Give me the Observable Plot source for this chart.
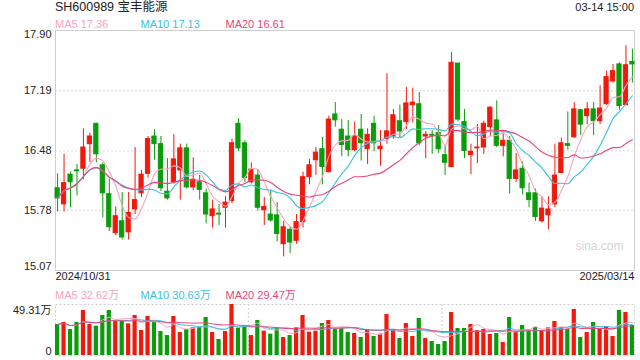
<!DOCTYPE html>
<html><head><meta charset="utf-8">
<script src="https://cdn.jsdelivr.net/npm/d3@7"></script>
<script src="https://cdn.jsdelivr.net/npm/@observablehq/plot@0.6"></script>
<style>
body{margin:0;background:#fff;}
#c{position:relative;width:640px;height:360px;font-family:"Liberation Sans",Arial,"Noto Sans CJK SC",sans-serif;overflow:hidden;background:#fff;}
#c svg{position:absolute;left:0;}
.t{position:absolute;white-space:nowrap;line-height:1;}
</style></head><body><div id="c"></div>
<script>
const title = "SH600989 宝丰能源";
const timeLabel = "03-14 15:00";
const priceMaLabels = ["MA5 17.36", "MA10 17.13", "MA20 16.61"];
const volMaLabels = ["MA5 32.62万", "MA10 30.63万", "MA20 29.47万"];
const maWindows = [5, 10, 20];
const maColors = ["#f7a3c0", "#3bbfe0", "#e8457c"];
const dateLabels = ["2024/10/31", "2025/03/14"];
const priceTicks = [17.90, 17.19, 16.48, 15.78, 15.07];
const volTicks = [49.31, 0];
const watermark = "sina.com";

const open = [16.04,15.85,16.20,16.25,16.27,16.56,16.80,16.31,15.97,15.51,
15.65,15.52,15.79,15.98,16.21,16.65,16.56,16.00,16.11,16.25,
16.51,16.05,16.11,15.98,15.71,15.74,15.81,15.89,16.80,16.57,
16.11,16.19,15.78,15.73,15.72,15.38,15.55,15.42,15.64,16.17,
16.37,16.50,16.23,16.91,16.73,16.65,16.49,16.73,16.50,16.80,
16.50,16.62,16.65,16.83,16.82,17.02,17.03,16.65,16.67,16.69,
16.43,16.29,17.51,16.82,16.43,16.51,16.52,16.76,16.84,16.54,
16.60,16.15,16.27,15.98,15.98,15.65,15.72,15.85,16.22,16.56,
16.64,16.96,16.89,16.97,16.83,17.03,17.30,17.50,17.02,17.53];
const close = [15.92,16.10,16.11,16.24,16.52,16.65,16.44,15.98,15.58,15.71,
15.46,15.75,15.90,16.20,16.62,16.56,16.04,15.92,16.38,16.51,
16.05,16.14,16.02,15.73,15.79,15.73,15.87,16.57,16.51,16.16,
16.26,15.81,15.82,15.66,15.50,15.58,15.40,15.64,16.17,16.31,
16.46,16.29,16.85,16.84,16.55,16.49,16.65,16.57,16.67,16.57,
16.53,16.71,16.90,16.71,17.04,17.05,16.57,16.67,16.66,16.50,
16.34,17.52,16.85,16.48,16.47,16.52,16.80,16.99,16.54,16.60,
16.15,16.25,16.04,15.90,15.70,15.80,15.79,16.19,16.57,16.54,
16.97,16.79,16.97,16.83,16.98,17.35,17.42,17.01,17.49,17.50];
const high = [16.21,16.44,16.23,16.32,16.74,16.69,16.80,16.34,16.15,15.82,
15.99,15.99,16.52,16.25,16.65,16.73,16.65,16.39,16.67,16.56,
16.56,16.40,16.19,16.03,15.90,15.85,15.94,16.62,16.86,16.60,
16.34,16.26,15.93,16.01,15.87,15.65,15.58,15.73,16.23,16.38,
16.52,16.64,16.89,17.05,16.85,16.84,16.82,16.91,16.74,16.89,
16.72,17.39,16.97,17.02,17.23,17.22,17.17,16.71,16.72,16.78,
16.54,17.64,17.51,16.97,16.56,16.79,16.83,17.00,17.07,16.69,
16.65,16.45,16.35,16.10,16.03,15.94,15.94,16.56,16.63,16.94,
17.05,16.96,17.05,17.05,17.25,17.42,17.50,17.52,17.72,17.68];
const low = [15.76,15.76,15.81,15.95,16.14,16.34,16.34,15.69,15.53,15.48,
15.43,15.43,15.73,15.93,16.16,16.37,16.00,15.90,16.09,15.90,
16.03,16.01,15.90,15.62,15.57,15.60,15.57,15.86,16.47,16.11,
16.09,15.77,15.60,15.64,15.41,15.23,15.27,15.38,15.57,16.08,
16.19,16.08,16.22,16.76,16.41,16.41,16.47,16.36,16.32,16.47,
16.30,16.56,16.62,16.63,16.73,16.81,16.54,16.39,16.44,16.45,
16.19,16.29,16.82,16.39,16.20,16.33,16.44,16.65,16.52,16.41,
15.97,16.11,15.96,15.81,15.65,15.63,15.55,15.81,16.21,16.49,
16.63,16.66,16.79,16.66,16.79,17.02,17.28,16.96,17.02,17.28];
const volume = [30.0,31.9,25.1,31.9,43.5,30.0,28.4,38.7,43.5,33.2,
33.2,30.6,38.7,24.2,37.7,32.2,23.2,19.3,37.7,22.2,
25.1,26.7,27.4,36.7,22.2,15.5,23.2,49.31,26.4,28.0,
19.3,33.8,23.5,20.6,26.4,17.4,19.3,26.7,38.7,22.6,
23.5,30.9,33.8,25.1,26.4,22.2,21.3,17.4,24.2,18.4,
20.6,39.6,25.1,16.4,30.9,18.4,35.8,16.4,13.5,10.6,
13.5,41.6,26.1,26.1,30.0,24.2,25.1,20.3,21.3,12.6,
36.7,23.2,29.0,23.5,27.1,24.2,26.7,32.9,27.1,25.1,
44.5,17.4,22.2,31.9,25.5,28.0,18.4,43.5,41.6,29.0];

const upColor = "#f0190c", downColor = "#0b9c0b";
const rows = close.map((c, i) => ({i, open: open[i], high: high[i], low: low[i], close: c, volume: volume[i],
  color: c >= open[i] ? upColor : downColor}));

const font = '"Liberation Sans", Arial, "Noto Sans CJK SC", sans-serif';
const xScale = {type: "band", domain: d3.range(rows.length), paddingInner: 0.35, paddingOuter: 0, axis: null};
const fmt = d => d.toFixed(2);

const main = Plot.plot({
  width: 640, height: 290, marginLeft: 55, marginRight: 6, marginTop: 30, marginBottom: 20,
  style: {fontFamily: font, fontSize: "11px", background: "transparent", overflow: "visible"},
  x: xScale,
  y: {domain: [priceTicks[priceTicks.length - 1], priceTicks[0]], axis: null},
  marks: [
    Plot.ruleY(priceTicks.slice(1, -1), {stroke: "#d9d9d9", strokeDasharray: "2,2"}),
    Plot.frame({stroke: "#cfcfcf"}),
    Plot.ruleX(rows, {x: "i", y1: "low", y2: "high", stroke: "color", strokeWidth: 1}),
    Plot.barY(rows, {x: "i", y1: "open", y2: "close", fill: "color", stroke: "color", strokeWidth: 1}),
    ...maWindows.map((k, j) => Plot.lineY(rows, Plot.windowY({k, anchor: "end"},
      {x: "i", y: "close", stroke: maColors[j], strokeWidth: 1.1, curve: "monotone-x"}))),
    Plot.text(priceTicks.slice(1, -1), {y: d => d, text: fmt, frameAnchor: "left", textAnchor: "end", dx: -4, fill: "#222"}),
    Plot.text(priceTicks.slice(0, 1), {y: d => d, text: fmt, frameAnchor: "left", textAnchor: "end", dx: -4, lineAnchor: "top", dy: 0, fill: "#222"}),
    Plot.text(priceTicks.slice(-1), {y: d => d, text: fmt, frameAnchor: "left", textAnchor: "end", dx: -4, lineAnchor: "bottom", dy: -1, fill: "#222"}),
    Plot.text(dateLabels.slice(0, 1), {text: d => d, frameAnchor: "bottom-left", textAnchor: "start", lineAnchor: "top", dy: 2, fill: "#222"}),
    Plot.text(dateLabels.slice(1), {text: d => d, frameAnchor: "bottom-right", textAnchor: "end", lineAnchor: "top", dy: 2, fill: "#222"}),
    Plot.text([watermark], {text: d => d, frameAnchor: "bottom-right", textAnchor: "end", dx: -11, dy: -21, fill: "#d4d4d4", fontSize: 12})
  ]
});
main.style.top = "0px";

const vol = Plot.plot({
  width: 640, height: 60, marginLeft: 55, marginRight: 6, marginTop: 4, marginBottom: 5,
  style: {fontFamily: font, fontSize: "11px", background: "transparent", overflow: "visible"},
  x: xScale,
  y: {domain: [volTicks[1], volTicks[0]], axis: null},
  marks: [
    Plot.frame({stroke: "#cfcfcf", strokeDasharray: "2,2"}),
    Plot.ruleX([30, 60], {stroke: "#cfcfcf", strokeDasharray: "2,2", dx: -3}),
    Plot.barY(rows, {x: "i", y: "volume", fill: "color"}),
    ...maWindows.map((k, j) => Plot.lineY(rows, Plot.windowY({k, anchor: "end"},
      {x: "i", y: "volume", stroke: maColors[j], strokeWidth: 1, curve: "monotone-x"}))),
    Plot.text(volTicks.slice(0, 1), {y: d => d, text: d => d.toFixed(2) + "万", frameAnchor: "left", textAnchor: "end", dx: -4, lineAnchor: "top", dy: 2, fill: "#222"}),
    Plot.text(volTicks.slice(1), {y: d => d, text: d => String(d), frameAnchor: "left", textAnchor: "end", dx: -4, lineAnchor: "bottom", dy: -1, fill: "#222"})
  ]
});
vol.style.top = "300px";

const c = document.getElementById("c");
c.appendChild(main);
c.appendChild(vol);

function addText(txt, css) {
  const d = document.createElement("div");
  d.className = "t";
  d.textContent = txt;
  Object.assign(d.style, css);
  c.appendChild(d);
}
addText(title, {left: "55px", top: "1px", fontSize: "12.5px", color: "#222"});
addText(timeLabel, {right: "6px", top: "2px", fontSize: "11px", color: "#222"});
const legendX = [55, 140.5, 225.5];
priceMaLabels.forEach((t, j) => addText(t, {left: legendX[j] + "px", top: "18.5px", fontSize: "11px", color: maColors[j]}));
volMaLabels.forEach((t, j) => addText(t, {left: legendX[j] + "px", top: "289.5px", fontSize: "11px", color: maColors[j]}));
</script></body></html>
